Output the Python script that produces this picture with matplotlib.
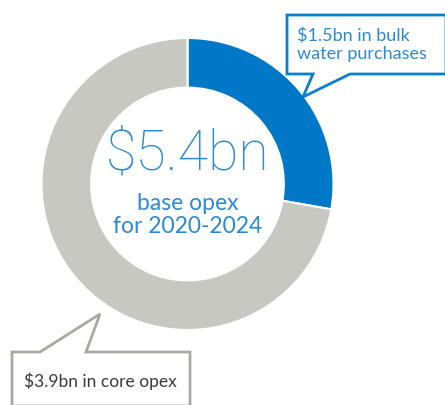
import matplotlib
matplotlib.use("Agg")
import matplotlib.pyplot as plt
from matplotlib.patches import Polygon

# Opex split (A$ billions)
labels = ["$1.5bn in bulk\nwater purchases", "$3.9bn in core opex"]
values = [1.5, 3.9]
colors = ["#0078C8", "#C8C8C3"]
total_label = "$5.4bn"
sub_label = "base opex\nfor 2020-2024"

W, H = 445, 405
fig = plt.figure(figsize=(W / 100, H / 100), dpi=100)
ax = fig.add_axes([0, 0, 1, 1])

def py(y):
    # pixel row from the top -> data y
    return H - y

cx, cy, R = 187.5, py(184), 146
ax.pie(values, colors=colors, startangle=90, counterclock=False,
       center=(cx, cy), radius=R,
       wedgeprops=dict(width=R * 0.34, edgecolor="white", linewidth=1.5),
       frame=True)
ax.set_xlim(0, W)
ax.set_ylim(0, H)
ax.set_aspect("equal")
ax.axis("off")

font = "Lato"
blue_txt = "#2B8AD3"
ax.text(cx, py(154), total_label, ha="center", va="center", fontsize=40,
        color=blue_txt, family="Roboto", fontweight=100)
ax.text(cx, py(215), sub_label, ha="center", va="center", fontsize=16.5,
        color=blue_txt, family=font, linespacing=1.15)

# Callout for bulk water purchases
top = [(287, 15), (446, 15), (446, 74), (350, 74), (303, 97), (313, 74), (287, 74)]
ax.add_patch(Polygon([(x, py(y)) for x, y in top], closed=True,
                     facecolor="white", edgecolor="#0A7FCB", linewidth=2, zorder=5))
ax.text(297, py(45), labels[0], ha="left", va="center", fontsize=13,
        color=blue_txt, family=font, linespacing=1.15, zorder=6)

# Callout for core opex
bot = [(12, 406), (12, 352), (40, 352), (100, 314), (86, 352), (190, 352), (190, 406)]
ax.add_patch(Polygon([(x, py(y)) for x, y in bot], closed=True,
                     facecolor="white", edgecolor="#A9A9A4", linewidth=2, zorder=5))
ax.text(24, py(381), labels[1], ha="left", va="center", fontsize=12.5,
        color="#3A3A3A", family=font, zorder=6)

fig.savefig("out.png", dpi=100)
